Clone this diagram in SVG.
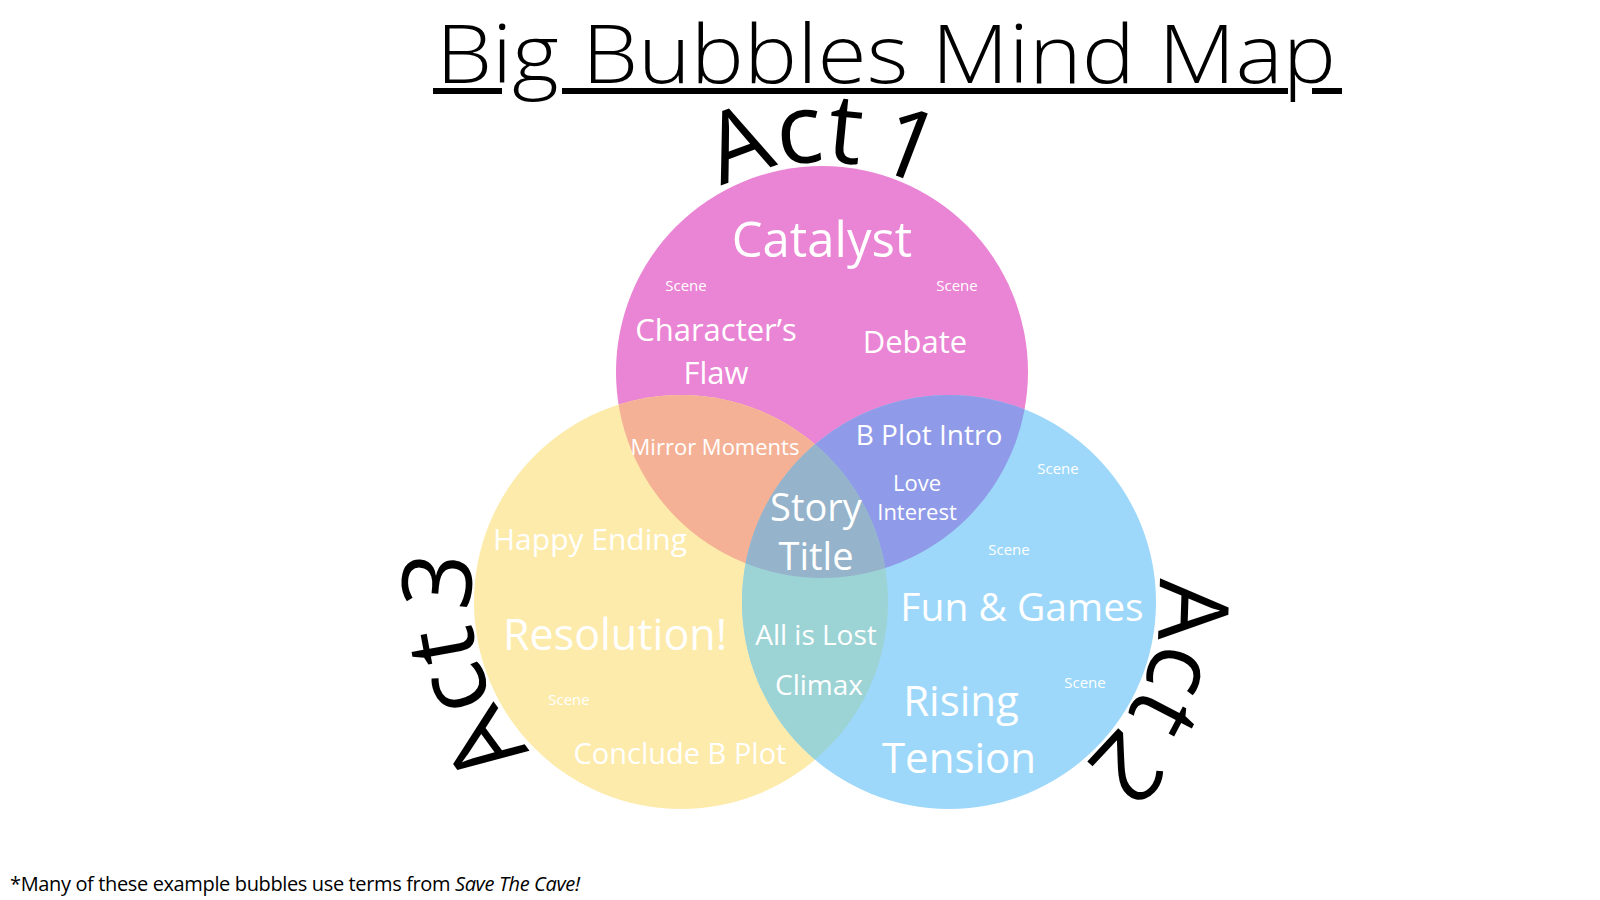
<svg xmlns="http://www.w3.org/2000/svg" width="1600" height="900" viewBox="0 0 1600 900">
<style>
.t{font-family:"Open Sans","Noto Sans","Liberation Sans",sans-serif;fill:#ffffff;text-anchor:middle}
.act{font-family:"Open Sans","Noto Sans","Liberation Sans",sans-serif;fill:#000000;font-size:97px;word-spacing:-14px}
.sc{font-size:15px}
</style>
<defs>
<clipPath id="cpPink"><circle cx="822" cy="372" r="206"/></clipPath>
<clipPath id="cpYellow"><circle cx="681" cy="602" r="207"/></clipPath>
<path id="arc1" d="M822,582 A210,210 0 1 1 822,162 A210,210 0 1 1 822,582"/>
<path id="arc2" d="M754.3,523.3 A210,210 0 1 1 1143.7,680.7 A210,210 0 1 1 754.3,523.3"/>
<path id="arc3" d="M882.9,544.1 A210,210 0 1 1 479.1,659.9 A210,210 0 1 1 882.9,544.1"/>
</defs>
<rect width="1600" height="900" fill="#ffffff"/>
<g id="title">
<text x="436" y="83" font-family="Open Sans, Noto Sans, Liberation Sans, sans-serif" font-weight="350" font-size="81" fill="#000" textLength="900" lengthAdjust="spacingAndGlyphs">Big Bubbles Mind Map</text>
<rect x="433" y="88" width="69" height="6" fill="#000"/>
<rect x="562" y="88" width="726" height="6" fill="#000"/>
<rect x="1312" y="88" width="30" height="6" fill="#000"/>
</g>
<g id="circles">
<circle id="act1-circle" cx="822" cy="372" r="206" fill="#EA84D4"/>
<circle id="act3-circle" cx="681" cy="602" r="207" fill="#FDEBAB"/>
<circle id="act2-circle" cx="949" cy="602" r="207" fill="#9DD8FA"/>
<circle id="overlap-1-3" cx="681" cy="602" r="207" fill="#F5B195" clip-path="url(#cpPink)"/>
<circle id="overlap-1-2" cx="949" cy="602" r="207" fill="#8F9AE8" clip-path="url(#cpPink)"/>
<circle id="overlap-2-3" cx="949" cy="602" r="207" fill="#9CD3D5" clip-path="url(#cpYellow)"/>
<g id="overlap-all" clip-path="url(#cpPink)"><circle cx="949" cy="602" r="207" fill="#95B3CA" clip-path="url(#cpYellow)"/></g>
</g>
<g id="act1-texts">
<text class="t" x="822" y="257" font-size="49">Catalyst</text>
<text class="t sc" x="686" y="291">Scene</text>
<text class="t sc" x="957" y="291">Scene</text>
<text class="t" x="716" y="341" font-size="31">Character’s</text>
<text class="t" x="716" y="384" font-size="31">Flaw</text>
<text class="t" x="915" y="353" font-size="31">Debate</text>
</g>
<g id="overlap-texts">
<text class="t" x="715" y="455" font-size="22">Mirror Moments</text>
<text class="t" x="929" y="445" font-size="28">B Plot Intro</text>
<text class="t" x="917" y="491" font-size="22">Love</text>
<text class="t" x="917" y="520" font-size="22">Interest</text>
<text class="t" x="816" y="521" font-size="38">Story</text>
<text class="t" x="816" y="570" font-size="38">Title</text>
<text class="t" x="816" y="645" font-size="28">All is Lost</text>
<text class="t" x="819" y="695" font-size="28">Climax</text>
</g>
<g id="act3-texts">
<text class="t" x="590" y="550" font-size="30">Happy Ending</text>
<text class="t" x="615" y="650" font-size="43">Resolution!</text>
<text class="t sc" x="569" y="705">Scene</text>
<text class="t" x="680" y="764" font-size="29">Conclude B Plot</text>
</g>
<g id="act2-texts">
<text class="t sc" x="1058" y="474">Scene</text>
<text class="t sc" x="1009" y="555">Scene</text>
<text class="t" x="1022" y="621" font-size="39">Fun &amp; Games</text>
<text class="t sc" x="1085" y="688">Scene</text>
<text class="t" x="961" y="716" font-size="42">Rising</text>
<text class="t" x="959" y="773" font-size="42">Tension</text>
</g>
<g id="act-labels">
<text class="act"><textPath href="#arc1" startOffset="50%" text-anchor="middle">Act 1</textPath></text>
<text class="act"><textPath href="#arc2" startOffset="50%" text-anchor="middle">Act 2</textPath></text>
<text class="act"><textPath href="#arc3" startOffset="50%" text-anchor="middle">Act 3</textPath></text>
</g>
<g id="footnote">
<text x="10" y="891" font-family="Open Sans, Noto Sans, Liberation Sans, sans-serif" font-size="20" fill="#000" textLength="570">*Many of these example bubbles use terms from <tspan font-style="italic">Save The Cave!</tspan></text>
</g>
</svg>
